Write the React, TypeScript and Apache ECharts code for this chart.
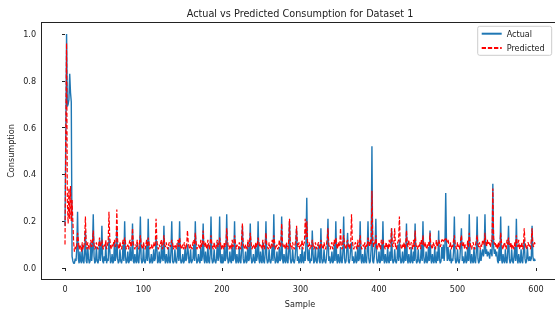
import React, { useEffect, useRef } from "react";
import * as echarts from "echarts";

// Values in hundredths (0.01 units)
const actualPct: number[] = [
  18, 55, 100, 69, 70, 72, 83, 75, 71, 5,
  3, 2, 2, 4, 3, 8, 24, 4, 2, 7,
  3, 2, 10, 3, 2, 6, 16, 3, 2, 9,
  4, 2, 3, 11, 3, 8, 23, 5, 2, 3,
  9, 3, 2, 4, 12, 3, 6, 18, 3, 2,
  5, 3, 10, 2, 4, 3, 13, 8, 2, 3,
  6, 2, 3, 11, 3, 5, 17, 4, 2, 3,
  8, 3, 2, 4, 10, 3, 20, 5, 2, 3,
  7, 2, 3, 9, 3, 4, 19, 3, 2, 6,
  3, 2, 11, 3, 2, 7, 22, 4, 2, 3,
  9, 3, 2, 4, 10, 3, 21, 5, 2, 3,
  6, 2, 3, 8, 3, 4, 13, 9, 2, 3,
  7, 2, 3, 10, 4, 3, 18, 4, 2, 6,
  3, 2, 9, 3, 2, 7, 20, 3, 2, 3,
  8, 3, 2, 5, 11, 3, 20, 4, 2, 3,
  6, 2, 3, 9, 3, 4, 10, 7, 2, 3,
  8, 2, 3, 4, 10, 3, 20, 5, 2, 3,
  6, 3, 2, 9, 3, 5, 19, 4, 2, 7,
  3, 2, 10, 3, 2, 6, 22, 4, 2, 3,
  8, 3, 2, 4, 11, 3, 5, 22, 3, 2,
  6, 2, 3, 9, 3, 4, 23, 5, 2, 3,
  7, 3, 2, 10, 3, 4, 20, 4, 2, 6,
  3, 2, 9, 3, 2, 8, 18, 4, 2, 3,
  7, 2, 3, 11, 3, 4, 19, 5, 2, 3,
  6, 3, 2, 9, 3, 5, 20, 4, 2, 7,
  3, 2, 11, 3, 2, 6, 20, 4, 2, 3,
  8, 3, 2, 4, 10, 3, 23, 5, 2, 3,
  7, 2, 3, 9, 3, 4, 22, 4, 2, 6,
  3, 2, 10, 3, 2, 7, 20, 4, 2, 3,
  8, 3, 2, 4, 9, 17, 3, 5, 2, 3,
  6, 2, 9, 3, 2, 7, 3, 11, 30, 4,
  3, 8, 2, 4, 3, 16, 6, 2, 3, 9,
  3, 2, 5, 10, 3, 2, 17, 4, 2, 3,
  8, 3, 2, 4, 9, 21, 3, 5, 2, 3,
  7, 2, 3, 10, 3, 20, 4, 2, 6, 3,
  2, 9, 3, 2, 7, 22, 4, 2, 3, 8,
  15, 3, 2, 4, 9, 11, 3, 5, 2, 3,
  7, 2, 3, 10, 3, 4, 20, 4, 2, 6,
  3, 2, 9, 3, 2, 7, 20, 4, 2, 3,
  8, 52, 3, 2, 5, 9, 21, 4, 2, 3,
  7, 2, 3, 10, 3, 20, 4, 2, 6, 3,
  2, 9, 3, 2, 7, 3, 17, 4, 2, 3,
  8, 3, 2, 4, 10, 3, 12, 5, 2, 3,
  7, 2, 3, 10, 3, 19, 4, 2, 6, 3,
  2, 9, 3, 2, 7, 3, 19, 4, 2, 3,
  8, 3, 2, 4, 10, 3, 20, 5, 2, 3,
  7, 2, 3, 9, 3, 16, 4, 2, 6, 3,
  2, 9, 3, 2, 7, 3, 16, 4, 2, 3,
  9, 4, 10, 3, 9, 32, 10, 3, 9, 4,
  3, 8, 2, 4, 3, 7, 22, 4, 2, 3,
  8, 3, 2, 4, 10, 17, 3, 5, 2, 3,
  7, 2, 3, 10, 3, 23, 4, 2, 6, 3,
  2, 9, 3, 2, 7, 22, 4, 2, 3, 8,
  3, 6, 8, 5, 7, 23, 6, 8, 5, 7,
  6, 4, 8, 7, 5, 36, 9, 6, 8, 5,
  7, 3, 2, 9, 3, 22, 4, 2, 6, 3,
  2, 8, 3, 2, 7, 18, 4, 2, 3, 8,
  3, 2, 5, 9, 3, 21, 4, 2, 6, 3,
  2, 8, 3, 2, 7, 12, 4, 2, 3, 9,
  4, 3, 5, 3, 4, 18, 5, 3, 4, 3,
];

const predictedPct: number[] = [
  10, 55, 96, 28, 19, 34, 21, 35, 20, 29,
  20, 11, 7, 9, 8, 10, 15, 12, 8, 10,
  9, 7, 11, 8, 9, 12, 22, 10, 8, 11,
  9, 8, 10, 12, 9, 11, 16, 10, 8, 9,
  11, 9, 8, 10, 13, 9, 10, 12, 9, 8,
  10, 9, 12, 8, 10, 11, 24, 13, 9, 8,
  10, 9, 11, 12, 9, 10, 25, 12, 9, 8,
  11, 9, 8, 10, 12, 10, 13, 11, 8, 9,
  10, 8, 11, 12, 9, 10, 17, 11, 9, 8,
  10, 9, 12, 9, 8, 11, 14, 10, 9, 8,
  11, 9, 8, 10, 12, 9, 13, 11, 8, 9,
  10, 8, 9, 11, 9, 10, 21, 12, 9, 8,
  10, 9, 11, 12, 8, 10, 14, 10, 9, 11,
  9, 8, 10, 11, 9, 10, 12, 11, 8, 9,
  10, 9, 8, 11, 12, 9, 13, 10, 8, 9,
  10, 8, 11, 9, 8, 10, 16, 11, 9, 8,
  10, 9, 8, 11, 12, 10, 15, 11, 8, 9,
  10, 9, 8, 12, 9, 11, 16, 10, 9, 11,
  9, 8, 12, 10, 8, 11, 14, 10, 9, 8,
  11, 9, 8, 10, 12, 9, 10, 13, 11, 8,
  10, 9, 8, 11, 9, 10, 17, 12, 9, 8,
  10, 9, 8, 12, 9, 10, 14, 11, 8, 10,
  9, 8, 11, 9, 8, 12, 19, 10, 9, 8,
  10, 9, 8, 12, 9, 10, 15, 11, 8, 9,
  10, 9, 8, 11, 9, 10, 13, 11, 9, 10,
  9, 8, 12, 9, 8, 11, 15, 10, 9, 8,
  11, 9, 8, 10, 12, 9, 14, 11, 8, 9,
  10, 8, 9, 12, 9, 10, 19, 11, 9, 10,
  9, 8, 11, 9, 8, 12, 21, 10, 9, 8,
  11, 9, 8, 10, 12, 18, 10, 9, 11, 8,
  10, 9, 12, 8, 10, 11, 21, 13, 20, 11,
  9, 11, 8, 10, 9, 12, 10, 8, 9, 11,
  9, 8, 10, 11, 9, 8, 12, 10, 9, 8,
  11, 9, 8, 10, 12, 17, 10, 9, 8, 10,
  11, 8, 9, 12, 10, 13, 10, 8, 11, 9,
  10, 17, 9, 8, 11, 14, 10, 9, 8, 11,
  12, 9, 10, 8, 11, 23, 12, 9, 8, 10,
  11, 9, 8, 12, 9, 10, 14, 10, 8, 9,
  10, 9, 11, 8, 10, 9, 13, 11, 9, 12,
  10, 33, 13, 9, 11, 10, 14, 9, 8, 10,
  11, 9, 8, 12, 10, 12, 10, 9, 8, 11,
  9, 10, 8, 12, 9, 11, 17, 10, 9, 11,
  17, 9, 8, 10, 11, 12, 22, 11, 9, 8,
  10, 9, 11, 8, 10, 16, 10, 9, 12, 8,
  9, 11, 10, 8, 12, 9, 16, 10, 9, 8,
  10, 9, 11, 8, 12, 10, 14, 10, 9, 11,
  9, 8, 10, 11, 9, 15, 10, 9, 8, 11,
  10, 9, 8, 12, 9, 10, 12, 11, 9, 10,
  12, 12, 11, 12, 12, 13, 12, 11, 12, 10,
  9, 11, 8, 10, 9, 12, 14, 10, 9, 8,
  11, 9, 10, 8, 12, 14, 10, 9, 11, 8,
  10, 9, 8, 12, 9, 15, 11, 9, 8, 10,
  11, 9, 8, 10, 12, 14, 10, 9, 11, 8,
  10, 9, 12, 11, 10, 15, 11, 9, 12, 10,
  11, 10, 9, 12, 11, 34, 13, 10, 11, 9,
  10, 8, 11, 9, 10, 15, 11, 9, 8, 10,
  11, 9, 8, 12, 10, 13, 10, 9, 11, 8,
  10, 9, 8, 11, 9, 14, 10, 9, 12, 8,
  10, 9, 11, 8, 10, 17, 11, 9, 8, 10,
  11, 9, 10, 8, 12, 17, 10, 9, 11, 10,
];

const xTicks = [0, 100, 200, 300, 400, 500, 600];
const yTicks = [0, 0.2, 0.4, 0.6, 0.8, 1.0];
const seriesNames = ["Actual", "Predicted"];
const titleText = "Actual vs Predicted Consumption for Dataset 1";
const xLabel = "Sample";
const yLabel = "Consumption";

const FONT = "DejaVu Sans, sans-serif";
const SPINE = { show: true, onZero: false, lineStyle: { color: "#222", width: 1 } };
const frameAxis = {
  type: "value",
  gridIndex: 1,
  min: 0,
  max: 1,
  axisLine: SPINE,
  axisTick: { show: false },
  axisLabel: { show: false },
  splitLine: { show: false },
};

export default function App() {
  const ref = useRef<HTMLDivElement>(null);
  useEffect(() => {
    if (!ref.current) return;
    const chart = echarts.init(ref.current, null, { renderer: "svg" });
    const actual = actualPct.map((v, i) => [i, v / 100]);
    const predicted = predictedPct.map((v, i) => [i, v / 100]);
    const xInt = xTicks[1] - xTicks[0];
    const yInt = yTicks[1] - yTicks[0];
    const tick = { show: true, length: 3, lineStyle: { color: "#222", width: 1 } };
    chart.setOption({
      animation: false,
      grid: [
        { left: 65, right: 19, top: 34, bottom: 46 },
        { left: 41.5, top: 22.5, width: 518, height: 257 },
      ],
      xAxis: [
        {
          type: "value",
          gridIndex: 0,
          min: xTicks[0],
          max: xTicks[xTicks.length - 1],
          interval: xInt,
          offset: 11.5,
          axisLine: { show: false },
          axisTick: tick,
          axisLabel: { margin: 5.4, fontSize: 8.1, fontFamily: FONT, color: "#222" },
          splitLine: { show: false },
        },
        { ...frameAxis, position: "bottom" },
        { ...frameAxis, position: "top" },
      ],
      yAxis: [
        {
          type: "value",
          gridIndex: 0,
          min: yTicks[0],
          max: yTicks[yTicks.length - 1],
          interval: yInt,
          offset: 23.5,
          axisLine: { show: false },
          axisTick: tick,
          axisLabel: {
            margin: 5.4,
            fontSize: 8.1,
            fontFamily: FONT,
            color: "#222",
            formatter: (v: number) => v.toFixed(1),
          },
          splitLine: { show: false },
        },
        { ...frameAxis, position: "left" },
        { ...frameAxis, position: "right" },
      ],
      legend: {
        orient: "vertical",
        right: 3.3,
        top: 26.3,
        itemWidth: 20,
        itemHeight: 10,
        itemGap: 4.3,
        padding: [2.4, 7, 2.3, 3],
        backgroundColor: "rgba(255,255,255,0.8)",
        borderColor: "#cccccc",
        borderWidth: 1,
        borderRadius: 2,
        itemStyle: { opacity: 0, color: "transparent", borderWidth: 0 },
        textStyle: { fontSize: 8.1, fontFamily: FONT, color: "#222", lineHeight: 10 },
        data: seriesNames,
      },
      series: [
        {
          name: seriesNames[0],
          type: "line",
          xAxisIndex: 0,
          yAxisIndex: 0,
          data: actual,
          symbol: "none",
          showSymbol: false,
          clip: false,
          lineStyle: { color: "#1f77b4", width: 1.4 },
          itemStyle: { color: "#1f77b4" },
          z: 2,
        },
        {
          name: seriesNames[1],
          type: "line",
          xAxisIndex: 0,
          yAxisIndex: 0,
          data: predicted,
          symbol: "none",
          showSymbol: false,
          clip: false,
          lineStyle: { color: "#ff0000", width: 1.2, type: [4.3, 1.85] },
          itemStyle: { color: "#ff0000" },
          z: 3,
        },
      ],
      graphic: [
        {
          type: "text",
          x: 300,
          y: 13.5,
          style: {
            text: titleText,
            font: `9.7px ${FONT}`,
            fill: "#222",
            textAlign: "center",
            textVerticalAlign: "middle",
          },
        },
        {
          type: "text",
          x: 300,
          y: 304,
          style: {
            text: xLabel,
            font: `8.1px ${FONT}`,
            fill: "#222",
            textAlign: "center",
            textVerticalAlign: "middle",
          },
        },
        {
          type: "text",
          x: 11,
          y: 151,
          rotation: Math.PI / 2,
          style: {
            text: yLabel,
            font: `8.1px ${FONT}`,
            fill: "#222",
            textAlign: "center",
            textVerticalAlign: "middle",
          },
        },
      ],
    });
    return () => chart.dispose();
  }, []);
  return <div ref={ref} style={{ position: "fixed", left: 0, top: 0, width: 555, height: 314 }} />;
}
